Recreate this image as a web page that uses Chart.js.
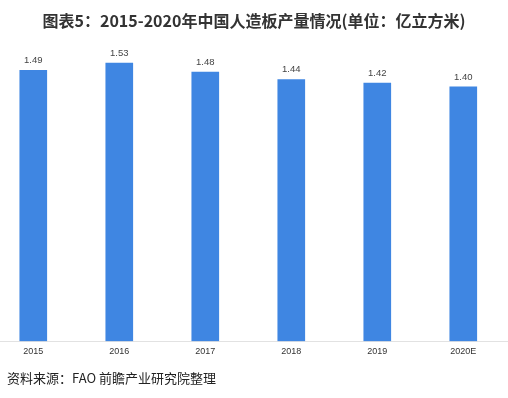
<!DOCTYPE html>
<html>
<head>
<meta charset="utf-8">
<script src="https://cdn.jsdelivr.net/npm/chart.js"></script>
<style>
  html, body { margin: 0; padding: 0; background: #fff; }
  #wrap { width: 508px; height: 398px; }
</style>
</head>
<body>
<div id="wrap"><canvas id="bar-chartcanvas" width="508" height="398"></canvas></div>
<script>
const years = ['2015', '2016', '2017', '2018', '2019', '2020E'];
const output = [1.49, 1.53, 1.48, 1.44, 1.42, 1.40];
const valueLabels = ['1.49', '1.53', '1.48', '1.44', '1.42', '1.40'];
const titleText = '图表5：2015-2020年中国人造板产量情况(单位：亿立方米)';
const sourceText = '资料来源：FAO 前瞻产业研究院整理';

// value labels above each bar
const valuePlugin = {
    id: 'valueLabels',
    afterDatasetsDraw(chart) {
        const ctx = chart.ctx;
        const meta = chart.getDatasetMeta(0);
        ctx.save();
        ctx.font = '9.5px "Liberation Sans", Arial, sans-serif';
        ctx.fillStyle = '#444';
        ctx.textAlign = 'center';
        ctx.textBaseline = 'alphabetic';
        meta.data.forEach(function (bar, i) {
            ctx.fillText(valueLabels[i], bar.x, bar.y - 7);
        });
        ctx.restore();
    }
};

// source line at the bottom left
const sourcePlugin = {
    id: 'sourceLine',
    afterDraw(chart) {
        const ctx = chart.ctx;
        ctx.save();
        ctx.font = '13px "Noto Sans CJK SC", sans-serif';
        ctx.fillStyle = '#222';
        ctx.textAlign = 'left';
        ctx.textBaseline = 'middle';
        ctx.fillText(sourceText, 7, 378);
        ctx.restore();
    }
};

const ctx = document.getElementById('bar-chartcanvas');
const chart = new Chart(ctx, {
    type: 'bar',
    data: {
        datasets: [{
            label: '人造板产量',
            data: output.map(function (v, i) { return { x: i, y: v }; }),
            backgroundColor: '#3F86E2',
            borderWidth: 0,
            barThickness: 27
        }]
    },
    options: {
        responsive: false,
        animation: false,
        layout: { padding: { left: 0, right: 0, top: 0, bottom: 36 } },
        plugins: {
            legend: { display: false },
            tooltip: { enabled: false },
            title: {
                display: true,
                text: titleText,
                color: '#333',
                font: { family: '"Noto Sans CJK SC", sans-serif', size: 16, weight: 'bold' },
                padding: { top: 11, bottom: 2 }
            }
        },
        scales: {
            x: {
                type: 'linear',
                offset: false,
                min: -0.387,
                max: 5.52,
                grid: { display: false, drawTicks: false },
                border: { display: true, color: '#e2e2e2' },
                afterBuildTicks: function (axis) {
                    axis.ticks = years.map(function (_, i) { return { value: i }; });
                },
                ticks: {
                    padding: 5,
                    color: '#333',
                    font: { family: '"Liberation Sans", Arial, sans-serif', size: 9 },
                    callback: function (v) { return years[v]; }
                }
            },
            y: {
                display: false,
                min: 0,
                max: 1.7
            }
        }
    },
    plugins: [valuePlugin, sourcePlugin]
});
</script>
</body>
</html>
